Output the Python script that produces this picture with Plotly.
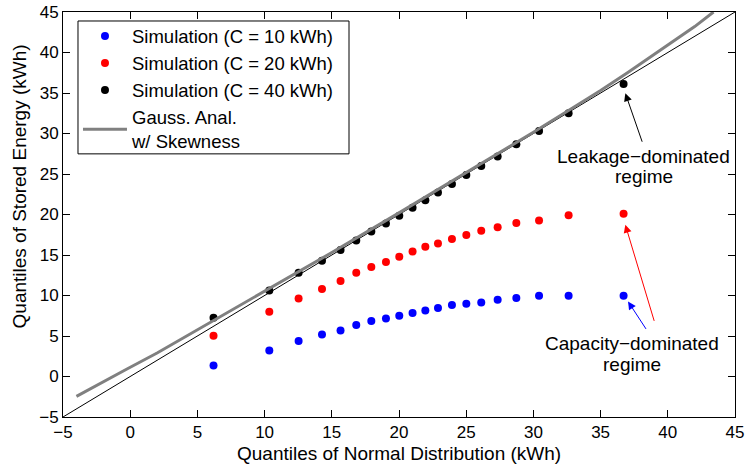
import plotly.graph_objects as go

# Normal-distribution quantiles (x) shared by all simulation series
x_q = [6.2, 10.35, 12.53, 14.27, 15.65, 16.82, 17.94, 19.03, 20.02, 21.01,
       21.96, 22.90, 23.94, 25.01, 26.12, 27.34, 28.73, 30.42, 32.62, 36.71]

sim_10 = [1.37, 3.22, 4.38, 5.19, 5.69, 6.35, 6.85, 7.17, 7.5, 7.83,
          8.16, 8.45, 8.82, 8.98, 9.14, 9.48, 9.68, 9.97, 9.97, 9.97]
sim_20 = [5.03, 8.0, 9.64, 10.8, 11.78, 12.8, 13.51, 14.13, 14.78, 15.43,
          16.01, 16.42, 16.96, 17.46, 17.99, 18.44, 18.94, 19.26, 19.92, 20.08]
sim_40 = [7.26, 10.62, 12.81, 14.29, 15.61, 16.79, 17.9, 18.89, 19.84, 20.82,
          21.77, 22.71, 23.78, 24.89, 26.0, 27.15, 28.68, 30.32, 32.5, 36.12]

# Gaussian analysis with skewness (grey curve)
gauss_x = [-4.0, -2.0, -0.24, 2.0, 3.5, 6.5, 10.0, 15.0, 20.0, 25.0,
           30.0, 33.0, 35.0, 37.0, 40.0, 42.0, 43.4]
gauss_y = [-2.45, -0.6, 0.93, 2.9, 4.33, 7.22, 10.5, 15.3, 20.2, 25.15,
           30.15, 33.25, 35.3, 37.5, 40.9, 43.2, 45.0]

# Reference line y = x
ref_x = [-5, 45]
ref_y = [-5, 45]

x_ticks = [-5, 0, 5, 10, 15, 20, 25, 30, 35, 40, 45]
y_ticks = [-5, 0, 5, 10, 15, 20, 25, 30, 35, 40, 45]

FONT = "Liberation Sans, Arial, Helvetica, sans-serif"

fig = go.Figure()
fig.add_trace(go.Scatter(x=ref_x, y=ref_y, mode="lines",
                         line=dict(color="black", width=1), showlegend=False))
fig.add_trace(go.Scatter(x=x_q, y=sim_10, mode="markers", name="Simulation (C = 10 kWh)",
                         marker=dict(color="#0000ff", size=8)))
fig.add_trace(go.Scatter(x=x_q, y=sim_20, mode="markers", name="Simulation (C = 20 kWh)",
                         marker=dict(color="#ff0000", size=8)))
fig.add_trace(go.Scatter(x=x_q, y=sim_40, mode="markers", name="Simulation (C = 40 kWh)",
                         marker=dict(color="black", size=8)))
fig.add_trace(go.Scatter(x=gauss_x, y=gauss_y, mode="lines", name="Gauss. Anal.<br>w/ Skewness",
                         line=dict(color="#808080", width=3)))

ann = []
# arrows: (head x, head y, tail x, tail y, color)
arrows = [(36.84, 34.97, 38.13, 28.8, "black"),
          (36.84, 18.73, 39.02, 6.68, "#ff0000"),
          (37.04, 9.27, 38.45, 5.69, "#0000ff")]
for hx, hy, tx, ty, c in arrows:
    ann.append(dict(x=hx, y=hy, ax=tx, ay=ty, xref="x", yref="y", axref="x", ayref="y",
                    text="", showarrow=True, arrowhead=2, arrowsize=1.6, arrowwidth=1,
                    arrowcolor=c, standoff=0, startstandoff=0))
texts = [(38.2, 27.15, "Leakage−dominated"), (38.2, 24.68, "regime"),
         (37.35, 4.13, "Capacity−dominated"), (37.35, 1.46, "regime")]
for tx, ty, t in texts:
    ann.append(dict(x=tx, y=ty, xref="x", yref="y", text=t, showarrow=False,
                    font=dict(family=FONT, size=19, color="black"),
                    xanchor="center", yanchor="middle"))
ann.append(dict(x=-0.065, y=0.57, xref="paper", yref="paper",
                text="Quantiles of Stored Energy (kWh)", textangle=-90, showarrow=False,
                font=dict(family=FONT, size=19, color="black"),
                xanchor="center", yanchor="middle"))
ann.append(dict(x=0.5, y=-0.09, xref="paper", yref="paper",
                text="Quantiles of Normal Distribution (kWh)", showarrow=False,
                font=dict(family=FONT, size=19, color="black"),
                xanchor="center", yanchor="middle"))

axis_common = dict(showgrid=False, zeroline=False, showline=True, linecolor="black",
                   linewidth=1, mirror="allticks", ticks="inside", ticklen=7,
                   tickcolor="black", tickwidth=1, automargin=False,
                   tickfont=dict(family=FONT, size=17, color="black"))

# legend frame drawn as a shape so its size matches the compact original frame
legend_frame = dict(type="rect", xref="paper", yref="paper",
                    x0=0.0223, x1=0.4256, y0=0.6497, y1=0.9778,
                    line=dict(color="black", width=1), fillcolor="white", layer="above")

fig.update_layout(
    width=746, height=468,
    margin=dict(l=63, r=11, t=12, b=51, autoexpand=False),
    paper_bgcolor="white", plot_bgcolor="white",
    font=dict(family=FONT, size=19, color="black"),
    xaxis=dict(range=[-5, 45], tickvals=x_ticks, **axis_common),
    yaxis=dict(range=[-5, 45], tickvals=y_ticks, **axis_common),
    legend=dict(x=0.0223, y=0.9865, xanchor="left", yanchor="top",
                borderwidth=0, bgcolor="rgba(0,0,0,0)",
                itemwidth=44,
                font=dict(family=FONT, size=18.5), tracegroupgap=0),
    shapes=[legend_frame],
    annotations=ann,
)

fig.write_html("out.html")
